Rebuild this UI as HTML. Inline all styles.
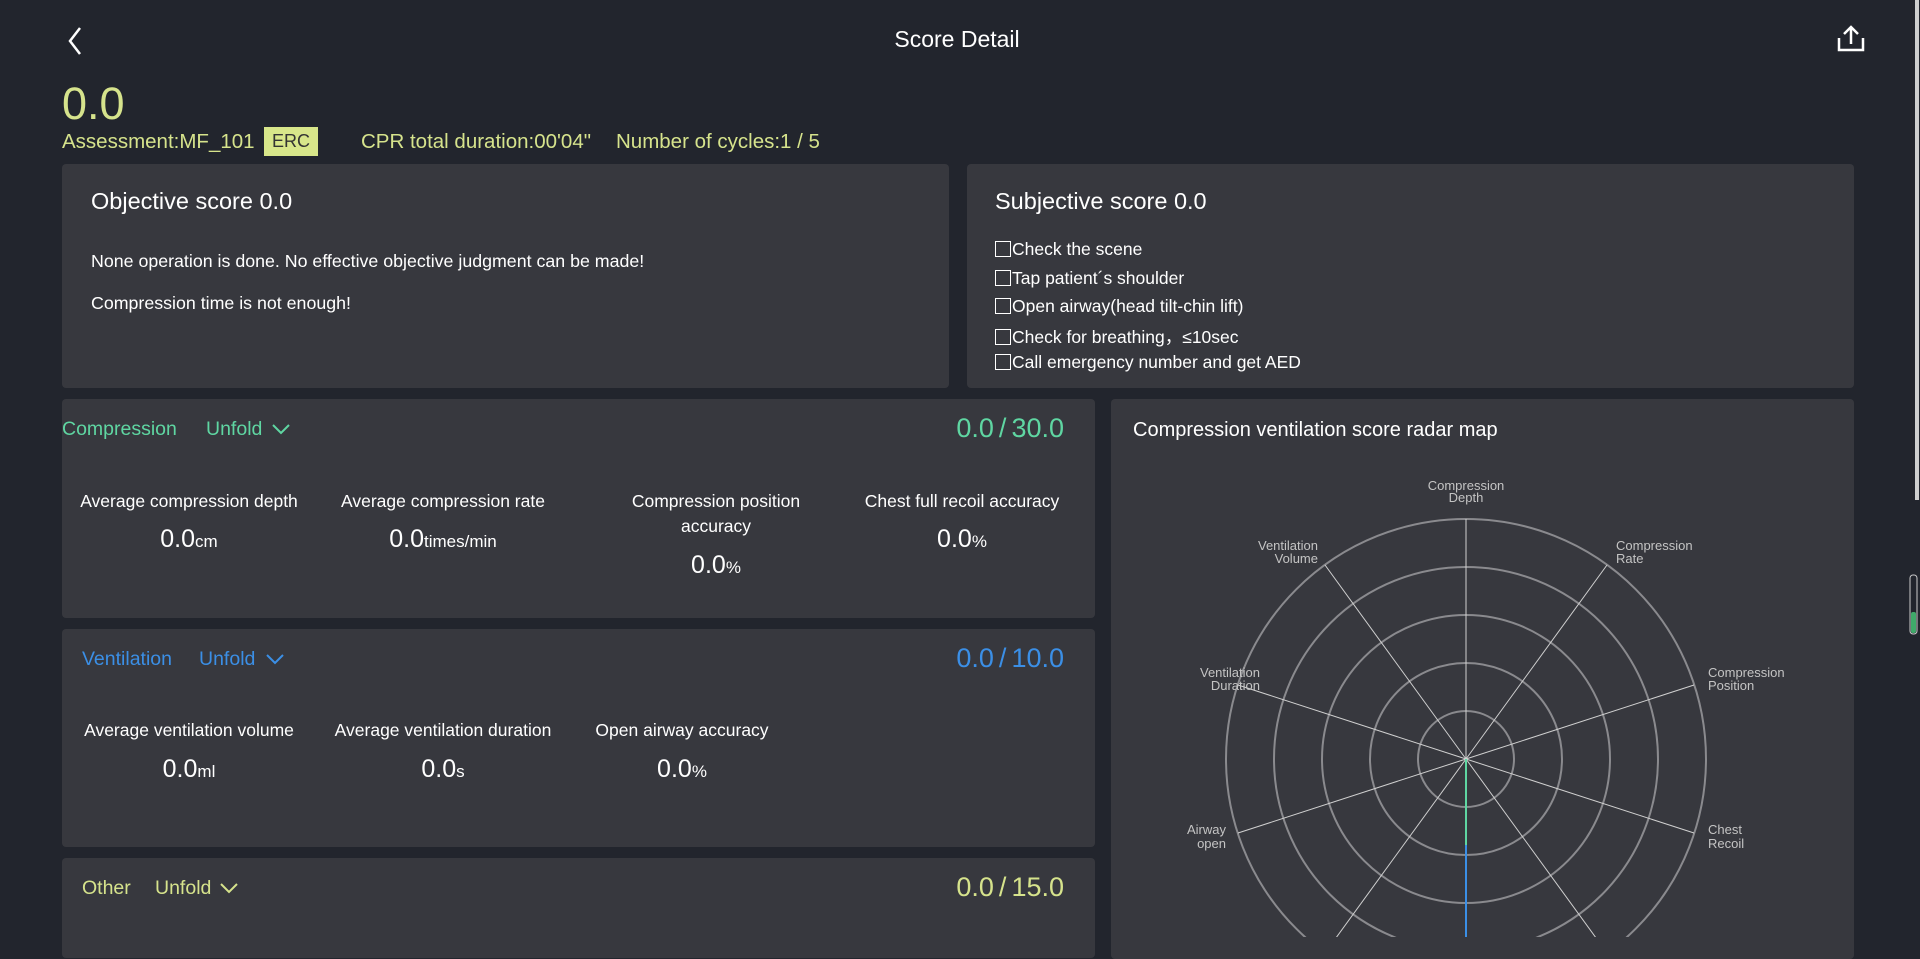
<!DOCTYPE html>
<html><head><meta charset="utf-8"><style>
*{margin:0;padding:0;box-sizing:border-box}
body{width:1920px;height:937px;background:#22252d;font-family:"Liberation Sans",sans-serif;color:#fff;position:relative;overflow:hidden}
.a{position:absolute;white-space:nowrap}
.card{position:absolute;background:#37383e;border-radius:4px}
.y{color:#d6e38c}
.lab{position:absolute;width:250px;text-align:center;font-size:17.5px;line-height:25px}
.val{position:absolute;width:250px;text-align:center;font-size:25px}
.val small{font-size:17px}
.cb{display:inline-block;width:16px;height:16px;border:1.5px solid #fff;vertical-align:-2px;margin-right:1px}
.sl{margin:0 5px}
</style></head><body>
<svg class="a" style="left:66px;top:26px" width="20" height="30"><polyline points="14,2 4,15 14,28" fill="none" stroke="#fff" stroke-width="2.5"/></svg>
<div class="a" style="left:0;width:1914px;text-align:center;top:26px;font-size:23px">Score Detail</div>
<svg class="a" style="left:1836px;top:24px" width="30" height="30"><path d="M3 14v12h24V14" fill="none" stroke="#fff" stroke-width="2.5"/><path d="M15 20V3M8 10l7-7 7 7" fill="none" stroke="#fff" stroke-width="2.5"/></svg>
<div class="a y" style="left:62px;top:78px;font-size:45px">0.0</div>
<div class="a y" style="left:62px;top:130px;font-size:20.5px">Assessment:MF_101</div>
<div class="a" style="left:264px;top:127px;width:54px;height:29px;background:#d8e68a;color:#333;font-size:18px;text-align:center;line-height:29px">ERC</div>
<div class="a y" style="left:361px;top:130px;font-size:20.5px">CPR total duration:00'04"</div>
<div class="a y" style="left:616px;top:130px;font-size:20.5px">Number of cycles:1 / 5</div>

<div class="card" style="left:62px;top:164px;width:887px;height:224px"></div>
<div class="a" style="left:91px;top:188px;font-size:23.5px">Objective score 0.0</div>
<div class="a" style="left:91px;top:251px;font-size:17.8px">None operation is done. No effective objective judgment can be made!</div>
<div class="a" style="left:91px;top:293px;font-size:17.8px">Compression time is not enough!</div>

<div class="card" style="left:967px;top:164px;width:887px;height:224px"></div>
<div class="a" style="left:995px;top:188px;font-size:23.5px">Subjective score 0.0</div>
<div class="a" style="left:995px;top:239px;font-size:17.5px"><span class="cb"></span>Check the scene</div>
<div class="a" style="left:995px;top:268px;font-size:17.5px"><span class="cb"></span>Tap patient´s shoulder</div>
<div class="a" style="left:995px;top:296px;font-size:17.5px"><span class="cb"></span>Open airway(head tilt-chin lift)</div>
<div class="a" style="left:995px;top:324px;font-size:17.5px"><span class="cb"></span>Check for breathing，≤10sec</div>
<div class="a" style="left:995px;top:352px;font-size:17.5px"><span class="cb"></span>Call emergency number and get AED</div>

<div class="card" style="left:62px;top:399px;width:1033px;height:219px"></div>
<div class="a" style="left:62px;top:418px;font-size:19.5px;color:#5fd6a2">Compression</div>
<div class="a" style="left:206px;top:418px;font-size:19.5px;color:#5fd6a2">Unfold</div>
<svg class="a" style="left:271px;top:422px" width="20" height="14"><polyline points="2,3 10,11 18,3" fill="none" stroke="#5fd6a2" stroke-width="2"/></svg>
<div class="a" style="right:856px;top:413px;font-size:27px;color:#5fd6a2">0.0<span class="sl">/</span>30.0</div>
<div class="lab" style="left:64px;top:489px">Average compression depth</div>
<div class="lab" style="left:318px;top:489px">Average compression rate</div>
<div class="lab" style="left:591px;top:489px">Compression position<br>accuracy</div>
<div class="lab" style="left:837px;top:489px">Chest full recoil accuracy</div>
<div class="val" style="left:64px;top:525px">0.0<small>cm</small></div>
<div class="val" style="left:318px;top:525px">0.0<small>times/min</small></div>
<div class="val" style="left:591px;top:551px">0.0<small>%</small></div>
<div class="val" style="left:837px;top:525px">0.0<small>%</small></div>

<div class="card" style="left:62px;top:629px;width:1033px;height:218px"></div>
<div class="a" style="left:82px;top:648px;font-size:19.5px;color:#3b8fe6">Ventilation</div>
<div class="a" style="left:199px;top:648px;font-size:19.5px;color:#3b8fe6">Unfold</div>
<svg class="a" style="left:265px;top:652px" width="20" height="14"><polyline points="2,3 10,11 18,3" fill="none" stroke="#3b8fe6" stroke-width="2"/></svg>
<div class="a" style="right:856px;top:643px;font-size:27px;color:#3b8fe6">0.0<span class="sl">/</span>10.0</div>
<div class="lab" style="left:64px;top:718px">Average ventilation volume</div>
<div class="lab" style="left:318px;top:718px">Average ventilation duration</div>
<div class="lab" style="left:557px;top:718px">Open airway accuracy</div>
<div class="val" style="left:64px;top:755px">0.0<small>ml</small></div>
<div class="val" style="left:318px;top:755px">0.0<small>s</small></div>
<div class="val" style="left:557px;top:755px">0.0<small>%</small></div>

<div class="card" style="left:62px;top:858px;width:1033px;height:100px"></div>
<div class="a y" style="left:82px;top:877px;font-size:19.5px">Other</div>
<div class="a y" style="left:155px;top:877px;font-size:19.5px">Unfold</div>
<svg class="a" style="left:219px;top:881px" width="20" height="14"><polyline points="2,3 10,11 18,3" fill="none" stroke="#d6e38c" stroke-width="2"/></svg>
<div class="a y" style="right:856px;top:872px;font-size:27px">0.0<span class="sl">/</span>15.0</div>

<div class="card" style="left:1111px;top:399px;width:743px;height:560px"></div>
<div class="a" style="left:1133px;top:419px;font-size:20px">Compression ventilation score radar map</div>
<svg class="a" style="left:0;top:0" width="1920" height="937">
<g fill="none" stroke="#8a8a8e" stroke-width="2">
<circle cx="1466" cy="759" r="240"/><circle cx="1466" cy="759" r="192"/><circle cx="1466" cy="759" r="144"/><circle cx="1466" cy="759" r="96"/><circle cx="1466" cy="759" r="48"/>
</g>
<g stroke="#d0d0d0" stroke-width="1">
<line x1="1466" y1="759" x2="1466" y2="519"/>
<line x1="1466" y1="759" x2="1607" y2="565"/>
<line x1="1466" y1="759" x2="1694" y2="685"/>
<line x1="1466" y1="759" x2="1694" y2="833"/>
<line x1="1466" y1="759" x2="1607" y2="953"/>
<line x1="1466" y1="759" x2="1325" y2="953"/>
<line x1="1466" y1="759" x2="1238" y2="833"/>
<line x1="1466" y1="759" x2="1238" y2="685"/>
<line x1="1466" y1="759" x2="1325" y2="565"/>
</g>
<line x1="1466" y1="759" x2="1466" y2="845" stroke="#5fd6a2" stroke-width="2"/>
<line x1="1466" y1="845" x2="1466" y2="937" stroke="#3b8fe6" stroke-width="2"/>
<g fill="#c4c4c4" font-family="Liberation Sans,sans-serif" font-size="13">
<text x="1466" y="490" text-anchor="middle">Compression</text><text x="1466" y="502" text-anchor="middle">Depth</text>
<text x="1616" y="550">Compression</text><text x="1616" y="563">Rate</text>
<text x="1708" y="677">Compression</text><text x="1708" y="690">Position</text>
<text x="1708" y="834">Chest</text><text x="1708" y="848">Recoil</text>
<text x="1226" y="834" text-anchor="end">Airway</text><text x="1226" y="848" text-anchor="end">open</text>
<text x="1260" y="677" text-anchor="end">Ventilation</text><text x="1260" y="690" text-anchor="end">Duration</text>
<text x="1318" y="550" text-anchor="end">Ventilation</text><text x="1318" y="563" text-anchor="end">Volume</text>
</g>
<rect x="1915" y="0" width="4" height="500" fill="#cfcfcf"/>
<rect x="1910" y="575" width="7" height="59" rx="3" fill="none" stroke="#ccc" stroke-width="1"/>
<rect x="1911" y="612" width="5" height="21" rx="2" fill="#3faa6a"/>
</svg>
</body></html>
